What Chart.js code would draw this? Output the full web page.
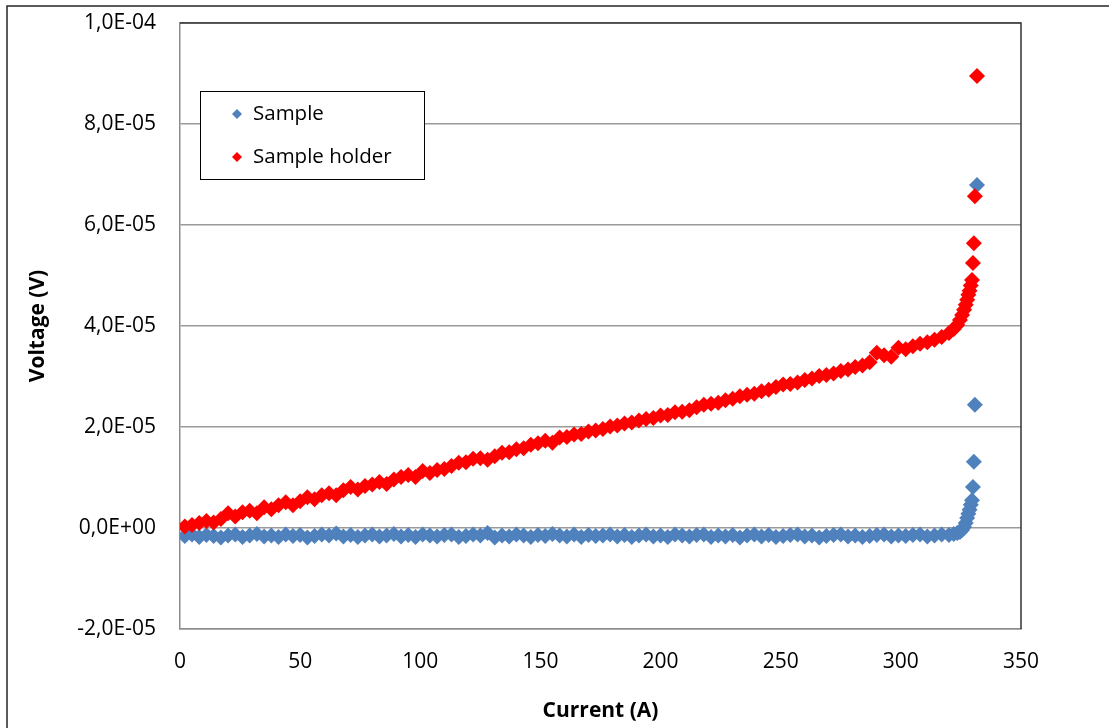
<!DOCTYPE html>
<html lang="en">
<head>
    <meta charset="UTF-8">
    <title>Sample / Sample holder voltage vs current</title>
    <script src="https://cdn.jsdelivr.net/npm/chart.js"></script>
    <style>
        html, body {
            margin: 0;
            padding: 0;
            background: #ffffff;
        }
        #wrap {
            position: relative;
            width: 1109px;
            height: 728px;
        }
    </style>
</head>
<body>
    <div id="wrap">
        <canvas id="grafico"></canvas>
    </div>

    <script>
        // Current (A) shared by both series
        const current = [
            2, 5, 8, 11, 14, 17, 20, 23, 26, 29,
            32, 35, 38, 41, 44, 47, 50, 53, 56, 59,
            62, 65, 68, 71, 74, 77, 80, 83, 86, 89,
            92, 95, 98, 101, 104, 107, 110, 113, 116, 119,
            122, 125, 128, 131, 134, 137, 140, 143, 146, 149,
            152, 155, 158, 161, 164, 167, 170, 173, 176, 179,
            182, 185, 188, 191, 194, 197, 200, 203, 206, 209,
            212, 215, 218, 221, 224, 227, 230, 233, 236, 239,
            242, 245, 248, 251, 254, 257, 260, 263, 266, 269,
            272, 275, 278, 281, 284, 287, 290, 293, 296, 299,
            302, 305, 308, 311, 314, 317, 320,
            322, 323.5, 324.6, 325.5, 326.3, 327, 327.6, 328.1, 328.6, 329.1,
            329.6, 330.0, 330.4, 330.8, 331.7
        ];

        // Voltage (V), sample
        const sampleVoltage = [
            -0.16e-5, -0.13e-5, -0.18e-5, -0.14e-5, -0.16e-5, -0.19e-5, -0.15e-5, -0.13e-5, -0.18e-5, -0.15e-5,
            -0.12e-5, -0.17e-5, -0.15e-5, -0.18e-5, -0.13e-5, -0.16e-5, -0.14e-5, -0.19e-5, -0.16e-5, -0.13e-5,
            -0.15e-5, -0.11e-5, -0.17e-5, -0.14e-5, -0.18e-5, -0.15e-5, -0.13e-5, -0.17e-5, -0.15e-5, -0.12e-5,
            -0.17e-5, -0.14e-5, -0.18e-5, -0.13e-5, -0.15e-5, -0.17e-5, -0.14e-5, -0.13e-5, -0.18e-5, -0.16e-5,
            -0.13e-5, -0.15e-5, -0.10e-5, -0.19e-5, -0.15e-5, -0.17e-5, -0.13e-5, -0.15e-5, -0.18e-5, -0.14e-5,
            -0.16e-5, -0.12e-5, -0.15e-5, -0.17e-5, -0.13e-5, -0.18e-5, -0.14e-5, -0.16e-5, -0.15e-5, -0.13e-5,
            -0.17e-5, -0.14e-5, -0.18e-5, -0.15e-5, -0.13e-5, -0.17e-5, -0.15e-5, -0.18e-5, -0.13e-5, -0.15e-5,
            -0.17e-5, -0.14e-5, -0.13e-5, -0.18e-5, -0.15e-5, -0.17e-5, -0.14e-5, -0.19e-5, -0.15e-5, -0.13e-5,
            -0.17e-5, -0.14e-5, -0.18e-5, -0.16e-5, -0.14e-5, -0.13e-5, -0.17e-5, -0.15e-5, -0.19e-5, -0.16e-5,
            -0.14e-5, -0.13e-5, -0.17e-5, -0.15e-5, -0.18e-5, -0.16e-5, -0.14e-5, -0.13e-5, -0.17e-5, -0.15e-5,
            -0.16e-5, -0.14e-5, -0.13e-5, -0.17e-5, -0.15e-5, -0.13e-5, -0.14e-5,
            -0.12e-5, -0.10e-5, -0.08e-5, -0.04e-5, 0.02e-5, 0.10e-5, 0.20e-5, 0.28e-5, 0.36e-5, 0.46e-5,
            0.55e-5, 0.81e-5, 1.31e-5, 2.44e-5, 6.79e-5
        ];

        // Voltage (V), sample holder
        const holderVoltage = [
            0.03e-5, 0.06e-5, 0.10e-5, 0.14e-5, 0.11e-5, 0.18e-5, 0.29e-5, 0.23e-5, 0.31e-5, 0.34e-5,
            0.29e-5, 0.41e-5, 0.37e-5, 0.45e-5, 0.51e-5, 0.45e-5, 0.53e-5, 0.61e-5, 0.57e-5, 0.65e-5,
            0.69e-5, 0.65e-5, 0.75e-5, 0.81e-5, 0.76e-5, 0.83e-5, 0.86e-5, 0.91e-5, 0.87e-5, 0.96e-5,
            1.01e-5, 1.05e-5, 1.01e-5, 1.13e-5, 1.09e-5, 1.15e-5, 1.17e-5, 1.23e-5, 1.29e-5, 1.30e-5,
            1.37e-5, 1.38e-5, 1.35e-5, 1.42e-5, 1.49e-5, 1.50e-5, 1.56e-5, 1.58e-5, 1.65e-5, 1.68e-5,
            1.73e-5, 1.69e-5, 1.79e-5, 1.80e-5, 1.85e-5, 1.86e-5, 1.91e-5, 1.93e-5, 1.96e-5, 2.01e-5,
            2.03e-5, 2.07e-5, 2.09e-5, 2.13e-5, 2.16e-5, 2.18e-5, 2.23e-5, 2.24e-5, 2.29e-5, 2.30e-5,
            2.33e-5, 2.39e-5, 2.44e-5, 2.46e-5, 2.48e-5, 2.53e-5, 2.56e-5, 2.61e-5, 2.64e-5, 2.66e-5,
            2.71e-5, 2.74e-5, 2.79e-5, 2.84e-5, 2.85e-5, 2.88e-5, 2.93e-5, 2.96e-5, 3.01e-5, 3.03e-5,
            3.06e-5, 3.11e-5, 3.14e-5, 3.19e-5, 3.22e-5, 3.28e-5, 3.47e-5, 3.42e-5, 3.39e-5, 3.57e-5,
            3.54e-5, 3.60e-5, 3.65e-5, 3.68e-5, 3.73e-5, 3.78e-5, 3.86e-5,
            3.94e-5, 4.02e-5, 4.12e-5, 4.22e-5, 4.32e-5, 4.42e-5, 4.52e-5, 4.62e-5, 4.70e-5, 4.80e-5,
            4.91e-5, 5.25e-5, 5.64e-5, 6.57e-5, 8.95e-5
        ];

        const seriesNames = ['Sample', 'Sample holder'];
        const seriesColors = ['#4f81bd', '#ff0000'];

        const xTicks = { min: 0, max: 350, step: 50 };
        const yTicks = { min: -2e-5, max: 1e-4, step: 2e-5 };

        Chart.defaults.font.family = "'Open Sans', sans-serif";
        Chart.defaults.color = '#000000';

        // "8,0E-05" style labels
        function formatoCientifico(v) {
            const s = Number(v.toPrecision(8)).toExponential(1);
            const [m, e] = s.split('e');
            const exp = parseInt(e, 10);
            return m.replace('.', ',') + 'E' + (exp < 0 ? '-' : '+') + String(Math.abs(exp)).padStart(2, '0');
        }

        function puntos(ys) {
            return current.map((x, i) => ({ x: x, y: ys[i] }));
        }

        // outer frame, plot border, legend box
        const marcoPlugin = {
            id: 'marco',
            beforeDraw(chart) {
                const c = chart.ctx;
                c.save();
                c.fillStyle = '#ffffff';
                c.fillRect(0, 0, chart.width, chart.height);
                c.strokeStyle = '#262626';
                c.lineWidth = 1.5;
                c.beginPath();
                c.moveTo(7, chart.height);
                c.lineTo(7, 6);
                c.lineTo(chart.width, 6);
                c.stroke();
                c.restore();
            },
            beforeDatasetsDraw(chart) {
                const a = chart.chartArea;
                const c = chart.ctx;
                c.save();
                c.strokeStyle = '#333333';
                c.lineWidth = 1.5;
                c.beginPath();
                c.moveTo(a.left, a.top);
                c.lineTo(a.right, a.top);
                c.lineTo(a.right, a.bottom);
                c.stroke();
                c.restore();
            },
            afterDraw(chart) {
                const c = chart.ctx;
                const bx = 200, by = 91, bw = 224, bh = 88;
                c.save();
                c.fillStyle = '#ffffff';
                c.fillRect(bx, by, bw, bh);
                c.strokeStyle = '#000000';
                c.lineWidth = 1;
                c.strokeRect(bx + 0.5, by + 0.5, bw, bh);
                c.font = "20.5px 'Open Sans', sans-serif";
                c.textBaseline = 'middle';
                chart.data.datasets.forEach((ds, i) => {
                    const cy = by + 23 + i * 43;
                    const cx = bx + 37;
                    const r = 5;
                    c.fillStyle = ds.backgroundColor;
                    c.beginPath();
                    c.moveTo(cx - r, cy);
                    c.lineTo(cx, cy - r);
                    c.lineTo(cx + r, cy);
                    c.lineTo(cx, cy + r);
                    c.closePath();
                    c.fill();
                    c.fillStyle = '#000000';
                    c.fillText(ds.label, bx + 53, cy);
                });
                c.restore();
            }
        };

        const ctx = document.getElementById('grafico').getContext('2d');

        new Chart(ctx, {
            type: 'scatter',
            data: {
                datasets: [{
                    label: seriesNames[0],
                    data: puntos(sampleVoltage),
                    backgroundColor: seriesColors[0],
                    borderWidth: 0,
                    pointStyle: 'rectRot',
                    pointRadius: 8,
                    pointHoverRadius: 8,
                    order: 1
                }, {
                    label: seriesNames[1],
                    data: puntos(holderVoltage),
                    backgroundColor: seriesColors[1],
                    borderWidth: 0,
                    pointStyle: 'rectRot',
                    pointRadius: 8,
                    pointHoverRadius: 8,
                    order: 0
                }]
            },
            options: {
                responsive: true,
                maintainAspectRatio: false,
                animation: false,
                layout: {
                    padding: { top: 23, right: 88, left: 0, bottom: 0 }
                },
                plugins: {
                    legend: { display: false },
                    tooltip: { enabled: false }
                },
                scales: {
                    x: {
                        type: 'linear',
                        min: xTicks.min,
                        max: xTicks.max,
                        afterFit(scale) {
                            scale.height = 99;
                            scale.paddingLeft = 0;
                            scale.paddingRight = 0;
                        },
                        grid: { display: false, drawTicks: false, tickLength: 0 },
                        border: { display: true, color: '#8c8c8c', width: 1.5 },
                        ticks: {
                            stepSize: xTicks.step,
                            autoSkip: false,
                            maxRotation: 0,
                            padding: 20,
                            font: { size: 21 }
                        },
                        title: {
                            display: true,
                            text: 'Current (A)',
                            font: { size: 21, weight: 'bold' },
                            padding: { top: 0, bottom: 4 }
                        }
                    },
                    y: {
                        type: 'linear',
                        min: yTicks.min,
                        max: yTicks.max,
                        afterFit(scale) {
                            scale.width = 180;
                            scale.paddingTop = 0;
                            scale.paddingBottom = 0;
                        },
                        grid: { color: '#9a9a9a', lineWidth: 1.5, drawTicks: false, tickLength: 0 },
                        border: { display: true, color: '#8c8c8c', width: 1.5 },
                        ticks: {
                            stepSize: yTicks.step,
                            padding: 24,
                            font: { size: 21 },
                            callback: (v) => formatoCientifico(v)
                        },
                        title: {
                            display: true,
                            text: 'Voltage (V)',
                            font: { size: 21, weight: 'bold' },
                            padding: { top: 25, bottom: 0 }
                        }
                    }
                }
            },
            plugins: [marcoPlugin]
        });
    </script>
</body>
</html>
